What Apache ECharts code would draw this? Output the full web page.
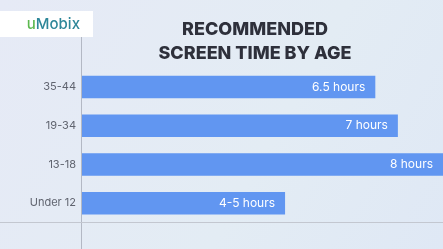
<!DOCTYPE html>
<html>
<head>
<meta charset="utf-8">
<script src="https://cdn.jsdelivr.net/npm/echarts@6/dist/echarts.min.js"></script>
<style>
  html, body { margin: 0; padding: 0; }
  #chart { width: 443px; height: 249px; }
</style>
</head>
<body>
<div id="chart"></div>
<script>
// age groups, bottom to top
var ageGroups = ['Under 12', '13-18', '19-34', '35-44'];
// recommended hours per day
var hours = [4.5, 8, 7, 6.5];
var hourLabels = ['4-5 hours', '8 hours', '7 hours', '6.5 hours'];

var chart = echarts.init(document.getElementById('chart'));
var option = {
    backgroundColor: {
        type: 'linear', x: 0, y: 0, x2: 1, y2: 1,
        colorStops: [
            {offset: 0, color: '#e6eaf6'},
            {offset: 0.6, color: '#e3ecf4'},
            {offset: 1, color: '#dfe8f5'}
        ]
    },
    title: {
        text: 'RECOMMENDED\nSCREEN TIME BY AGE',
        left: 250,
        top: 13,
        textAlign: 'center',
        textStyle: {
            fontFamily: 'Inter',
            fontWeight: 800,
            fontSize: 18,
            lineHeight: 24,
            color: '#2e303b'
        }
    },
    grid: {
        left: 82,
        top: 67.7,
        width: 362,
        height: 154.8
    },
    xAxis: {
        type: 'value',
        min: 0,
        max: 8,
        show: false
    },
    yAxis: {
        type: 'category',
        data: ageGroups,
        axisLine: {show: false},
        axisTick: {show: false},
        axisLabel: {
            margin: 6,
            fontFamily: 'Inter',
            fontSize: 11,
            color: '#60646f'
        }
    },
    series: [{
        type: 'bar',
        data: hours,
        barWidth: 22.5,
        itemStyle: {color: '#6196f1'},
        label: {
            show: true,
            position: 'insideRight',
            distance: 10,
            fontFamily: 'Inter',
            fontSize: 12,
            color: '#ffffff',
            formatter: function (p) { return hourLabels[p.dataIndex]; }
        }
    }],
    graphic: [
        {
            type: 'line',
            shape: {x1: 81.5, y1: 37, x2: 81.5, y2: 249},
            style: {stroke: '#b3b8c4', lineWidth: 1}
        },
        {
            type: 'line',
            shape: {x1: 0, y1: 222.5, x2: 443, y2: 222.5},
            style: {stroke: '#c3c7d0', lineWidth: 1}
        },
        {
            type: 'rect',
            shape: {x: 0, y: 11, width: 93, height: 26},
            style: {fill: '#ffffff'}
        },
        {
            // logo, anchored at its right edge
            type: 'text',
            style: {
                x: 80,
                y: 24,
                align: 'right',
                verticalAlign: 'middle',
                text: '{u|u}{m|Mobix}',
                rich: {
                    u: {fill: '#5cb84f', fontFamily: 'Inter', fontSize: 15, fontWeight: 500},
                    m: {fill: '#2e8799', fontFamily: 'Inter', fontSize: 15, fontWeight: 500}
                }
            }
        }
    ]
};
chart.setOption(option);
</script>
</body>
</html>
